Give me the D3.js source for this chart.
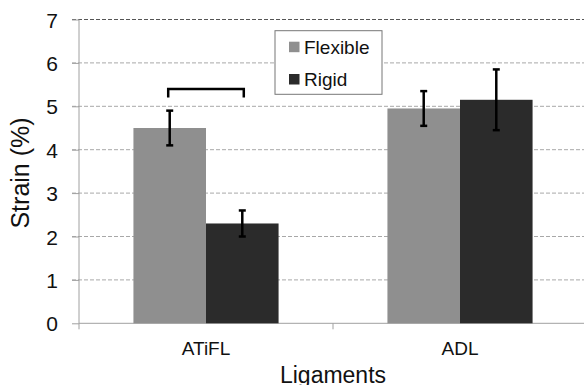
<!DOCTYPE html>
<html>
<head>
<style>
  body { margin: 0; background: #fff; }
  svg { display: block; }
  svg text { font-family: "Liberation Sans", Arial, sans-serif; fill: #111; }
  .grid line { stroke: #a8a8a8; stroke-dasharray: 4,2; }
  .axis path, .axis line { stroke: #a0a0a0; }
</style>
<script src="https://d3js.org/d3.v7.min.js"></script>
</head>
<body>
<svg width="584" height="385"></svg>
<script>
var categories = ["ATiFL", "ADL"];
var series = ["Flexible", "Rigid"];
var flexible = [4.5, 4.95];
var rigid = [2.3, 5.15];
var flexibleErr = [0.4, 0.4];
var rigidErr = [0.3, 0.7];
var yTicks = [0, 1, 2, 3, 4, 5, 6, 7];
var colors = ["#8f8f8f", "#2b2b2b"];

var svg = d3.select("svg");
var plotLeft = 79, plotRight = 587, plotTop = 19.5, plotBottom = 323.3;

var x = d3.scaleBand().domain(categories).range([plotLeft, plotRight]);
var xs = d3.scaleBand().domain(series).range([0, x.bandwidth()]).paddingOuter(0.75).paddingInner(0);
var y = d3.scaleLinear().domain([0, 7]).range([plotBottom, plotTop]);

// grid
svg.append("g").attr("class", "grid")
  .selectAll("line").data(yTicks.slice(1)).enter().append("line")
  .attr("x1", plotLeft - 7).attr("x2", plotRight)
  .attr("y1", function(d) { return y(d); })
  .attr("y2", function(d) { return y(d); })
  .style("stroke", function(d) { return d === 7 ? "#555" : null; });

// y axis
var ya = svg.append("g").attr("class", "axis")
  .attr("transform", "translate(" + plotLeft + ",0)")
  .call(d3.axisLeft(y).tickValues(yTicks).tickFormat(d3.format("d"))
    .tickSize(7).tickSizeOuter(0).tickPadding(14));
ya.attr("font-family", null);
ya.selectAll("text").style("font-size", "21px").attr("dy", "0.36em");
ya.select(".domain").attr("d", "M0," + plotTop + "V" + plotBottom);

// x axis
var xa = svg.append("g").attr("class", "axis")
  .attr("transform", "translate(0," + plotBottom + ")");
xa.append("line").attr("x1", plotLeft).attr("x2", plotRight).attr("y1", 0).attr("y2", 0);
xa.selectAll("line.tk").data(categories.concat(["end"])).enter().append("line")
  .attr("class", "tk")
  .attr("x1", function(d, i) { return plotLeft + i * x.step(); })
  .attr("x2", function(d, i) { return plotLeft + i * x.step(); })
  .attr("y1", 0).attr("y2", 6);
xa.selectAll("text").data(categories).enter().append("text")
  .attr("x", function(d) { return x(d) + x.bandwidth() / 2; })
  .attr("y", 31.7)
  .attr("text-anchor", "middle")
  .style("font-size", "19px")
  .text(function(d) { return d; });

// bars
var data = [];
categories.forEach(function(c, i) {
  data.push({ cat: c, s: "Flexible", v: flexible[i], e: flexibleErr[i] });
  data.push({ cat: c, s: "Rigid", v: rigid[i], e: rigidErr[i] });
});

svg.selectAll("rect.bar").data(data).enter().append("rect")
  .attr("class", "bar")
  .attr("x", function(d) { return x(d.cat) + xs(d.s); })
  .attr("width", xs.bandwidth())
  .attr("y", function(d) { return y(d.v); })
  .attr("height", function(d) { return y(0) - y(d.v); })
  .attr("fill", function(d) { return colors[series.indexOf(d.s)]; });

// error bars
var eb = svg.selectAll("g.err").data(data).enter().append("g").attr("class", "err")
  .attr("stroke", "#000").attr("stroke-width", 2.5);
function cx(d) { return x(d.cat) + xs(d.s) + xs.bandwidth() / 2; }
eb.append("line")
  .attr("x1", cx).attr("x2", cx)
  .attr("y1", function(d) { return y(d.v + d.e); })
  .attr("y2", function(d) { return y(d.v - d.e); });
eb.append("line")
  .attr("x1", function(d) { return cx(d) - 3.5; }).attr("x2", function(d) { return cx(d) + 3.5; })
  .attr("y1", function(d) { return y(d.v + d.e); }).attr("y2", function(d) { return y(d.v + d.e); });
eb.append("line")
  .attr("x1", function(d) { return cx(d) - 3.5; }).attr("x2", function(d) { return cx(d) + 3.5; })
  .attr("y1", function(d) { return y(d.v - d.e); }).attr("y2", function(d) { return y(d.v - d.e); });

// significance bracket over ATiFL
var bx1 = cx(data[0]) - 1.5, bx2 = cx(data[1]) + 1.5;
svg.append("path")
  .attr("d", "M" + bx1 + "," + y(5.2) + "V" + y(5.4) + "H" + bx2 + "V" + y(5.2))
  .attr("fill", "none").attr("stroke", "#000").attr("stroke-width", 2.5);

// legend
var lg = svg.append("g").attr("transform", "translate(275,30.7)");
lg.append("rect").attr("width", 107).attr("height", 63.6)
  .attr("fill", "#fff").attr("stroke", "#777");
series.forEach(function(s, i) {
  lg.append("rect").attr("x", 14).attr("y", 11 + i * 32.3).attr("width", 10.5).attr("height", 10.5)
    .attr("fill", colors[i]);
  lg.append("text").attr("x", 29).attr("y", 23.3 + i * 32)
    .style("font-size", "19px").text(s);
});

// axis titles
svg.append("text")
  .attr("transform", "translate(29,173) rotate(-90)")
  .attr("text-anchor", "middle").style("font-size", "25px")
  .text("Strain (%)");
svg.append("text")
  .attr("x", 333).attr("y", 383)
  .attr("text-anchor", "middle").style("font-size", "23px")
  .text("Ligaments");
</script>
</body>
</html>
